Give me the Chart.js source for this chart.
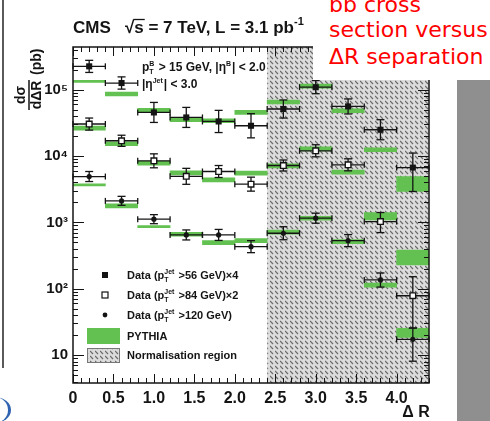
<!DOCTYPE html>
<html>
<head>
<meta charset="utf-8">
<script src="https://cdn.jsdelivr.net/npm/chart.js@4.4.0/dist/chart.umd.min.js"></script>
<style>
  html, body { margin: 0; padding: 0; background: #fff; }
  #wrap { position: relative; width: 490px; height: 421px; overflow: hidden; }
  #wrap canvas { position: absolute; left: 0; top: 0; }
  .note { position: absolute; left: 313px; top: 0; width: 177px; height: 80px; background: #fff; }
  .note span { position: absolute; left: 16px; font-family: "DejaVu Sans", sans-serif; font-size: 22px; line-height: 22px; color: #ff0000; white-space: nowrap; }
  .side { position: absolute; left: 457px; top: 80px; width: 33px; height: 341px; background: #8f8f8f; }
  .edge { position: absolute; left: 2px; top: 0; width: 2px; height: 368px; background: #5a5a5a; }
  .blob { position: absolute; left: -22px; top: 397px; width: 30px; height: 26px; border-right: 3px solid #2f62b0; border-radius: 50%; }
</style>
</head>
<body>
<div id="wrap">
  <canvas id="chartDeltaR" width="490" height="421"></canvas>
  <div class="edge"></div>
  <div class="blob"></div>
  <div class="side"></div>
  <div class="note">
    <span style="top:-6px">bb̄ cross</span>
    <span style="top:19px">section versus</span>
    <span style="top:46px">ΔR separation</span>
  </div>
</div>
<script>
// ============================================
// bb cross section versus Delta R (CMS, 7 TeV)
// ============================================

// Bins de Delta R (centros)
const binCenters = [0.2, 0.6, 1.0, 1.4, 1.8, 2.2, 2.6, 3.0, 3.4, 3.8, 4.2];
const binHalfWidth = 0.2;
const normStart = 2.4;

// Eje Y
const yTicks = [10, 100, 1000, 10000, 100000];
const yTickLabels = ['10', '10²', '10³', '10⁴', '10⁵'];

// Data (pT jet > 56 GeV) x4
const data56 = [2.25e5, 1.26e5, 4.54e4, 3.82e4, 3.32e4, 2.86e4, 5.12e4, 1.09e5, 5.6e4, 2.49e4, 6.7e3];
const data56Hi = [2.77e5, 1.56e5, 6.43e4, 5.41e4, 4.88e4, 4.35e4, 7.0e4, 1.37e5, 7.26e4, 3.53e4, 1.11e4];
const data56Lo = [1.82e5, 1.02e5, 3.21e4, 2.70e4, 2.26e4, 1.88e4, 3.74e4, 8.7e4, 4.31e4, 1.76e4, 2.92e3];
const pythia56Hi = [1.382e5, 9.23e4, 5.26e4, 3.78e4, 3.65e4, 4.87e4, 6.99e4, 1.211e5, 5.17e4, 1.332e4, 4.91e3];
const pythia56Lo = [1.289e5, 8.03e4, 4.58e4, 3.29e4, 3.18e4, 4.24e4, 6.09e4, 1.054e5, 4.5e4, 1.16e4, 2.92e3];

// Data (pT jet > 84 GeV) x2
const data84 = [3.04e4, 1.70e4, 8.48e3, 4.95e3, 5.85e3, 3.77e3, 7.2e3, 1.20e4, 7.38e3, 1.03e3, 78.5];
const data84Hi = [3.74e4, 2.06e4, 1.08e4, 6.53e3, 7.2e3, 4.81e3, 8.72e3, 1.48e4, 9.09e3, 1.41e3, 152];
const data84Lo = [2.46e4, 1.40e4, 6.65e3, 3.75e3, 4.75e3, 2.96e3, 5.95e3, 9.74e3, 5.99e3, 702, 25.6];
const pythia84Hi = [2.83e4, 1.64e4, 8.39e3, 5.99e3, 4.7e3, 5.93e3, 7.64e3, 1.38e4, 6.14e3, 1.41e3, 384];
const pythia84Lo = [2.46e4, 1.43e4, 7.3e3, 5.21e3, 4.09e3, 5.16e3, 6.65e3, 1.2e4, 5.34e3, 1.09e3, 228];

// Data (pT jet > 120 GeV)
const data120 = [4.91e3, 2.11e3, 1.12e3, 648, 648, 431, 687, 1157, 531, 136, 17.3];
const data120Hi = [5.85e3, 2.47e3, 1.31e3, 770, 784, 531, 861, 1377, 655, 173, 25.6];
const data120Lo = [4.13e3, 1.81e3, 956, 544, 535, 350, 548, 972, 431, 106, 8.1];
const pythia120Hi = [3.81e3, 1.90e3, 895, 711, 531, 569, 763, 1240, 550, 122, 25.3];
const pythia120Lo = [3.56e3, 1.66e3, 835, 619, 462, 496, 664, 1080, 479, 106, 18.4];

// Colores
const GREEN = '#62c150';
const INK = '#141414';
const FONT = '"Liberation Sans", Arial, Helvetica, sans-serif';

Chart.defaults.font.family = FONT;
Chart.defaults.color = INK;

const errorSeries = [
    { val: data56, hi: data56Hi, lo: data56Lo },
    { val: data84, hi: data84Hi, lo: data84Lo },
    { val: data120, hi: data120Hi, lo: data120Lo },
];

// patron rayado de la region de normalizacion
function makeHatch(ctx) {
    const tile = document.createElement('canvas');
    tile.width = 5; tile.height = 5;
    const t = tile.getContext('2d');
    t.fillStyle = '#dcdcdc';
    t.fillRect(0, 0, 5, 5);
    t.strokeStyle = '#6a6a6a';
    t.lineWidth = 1.2;
    t.beginPath();
    t.moveTo(0, 1); t.lineTo(3, 4);
    t.stroke();
    return ctx.createPattern(tile, 'repeat');
}

// texto con subindices / superindices
function drawRuns(ctx, x, y, parts, size) {
    ctx.textAlign = 'left';
    ctx.textBaseline = 'alphabetic';
    parts.forEach(p => {
        if (p.t !== undefined) {
            ctx.font = 'bold ' + size + 'px ' + FONT;
            ctx.fillText(p.t, x, y);
            x += ctx.measureText(p.t).width;
        } else {
            const s = Math.round(size * 0.62);
            ctx.font = 'bold ' + s + 'px ' + FONT;
            let w = 0;
            if (p.sup) { ctx.fillText(p.sup, x, y - size * 0.45); w = Math.max(w, ctx.measureText(p.sup).width); }
            if (p.sub) { ctx.fillText(p.sub, x, y + size * 0.25); w = Math.max(w, ctx.measureText(p.sub).width); }
            x += w + 1;
        }
    });
    return x;
}

function seg(ctx, x0, y0, x1, y1) {
    ctx.beginPath();
    ctx.moveTo(x0, y0);
    ctx.lineTo(x1, y1);
    ctx.stroke();
}

let errorsDrawn = false;

const cmsPlugin = {
    id: 'cmsPlot',
    beforeDatasetsDraw(chart) {
        const ctx = chart.ctx;
        const { top, bottom, right } = chart.chartArea;
        const xs = chart.scales.x;
        errorsDrawn = false;
        ctx.save();
        ctx.fillStyle = makeHatch(ctx);
        const x0 = xs.getPixelForValue(normStart);
        ctx.fillRect(x0, top, right - x0, bottom - top);
        ctx.restore();
    },
    beforeDatasetDraw(chart, args) {
        if (errorsDrawn || chart.data.datasets[args.index].type !== 'scatter') return;
        errorsDrawn = true;
        const ctx = chart.ctx;
        const xs = chart.scales.x, ys = chart.scales.y;
        ctx.save();
        ctx.strokeStyle = INK;
        ctx.lineWidth = 1.3;
        errorSeries.forEach(s => {
            binCenters.forEach((c, i) => {
                const px = xs.getPixelForValue(c);
                const pl = xs.getPixelForValue(c - binHalfWidth);
                const pr = xs.getPixelForValue(c + binHalfWidth);
                const py = ys.getPixelForValue(s.val[i]);
                const ph = ys.getPixelForValue(s.hi[i]);
                const plo = ys.getPixelForValue(s.lo[i]);
                seg(ctx, pl, py, pr, py);
                seg(ctx, pl, py - 3, pl, py + 3);
                seg(ctx, pr, py - 3, pr, py + 3);
                seg(ctx, px, ph, px, plo);
                seg(ctx, px - 4, ph, px + 4, ph);
                seg(ctx, px - 4, plo, px + 4, plo);
            });
        });
        ctx.restore();
    },
    afterDraw(chart) {
        const ctx = chart.ctx;
        const { left, right, top, bottom } = chart.chartArea;
        const xs = chart.scales.x, ys = chart.scales.y;
        ctx.save();
        ctx.strokeStyle = INK;
        ctx.fillStyle = INK;

        // marcas interiores
        ctx.lineWidth = 1;
        for (let i = 0; i <= 44; i++) {
            const px = Math.round(xs.getPixelForValue(i / 10)) + 0.5;
            const len = i % 5 === 0 ? 9 : 5;
            seg(ctx, px, bottom, px, bottom - len);
            seg(ctx, px, top, px, top + len);
        }
        for (let e = 0; e <= 5; e++) {
            for (let m = 1; m <= 9; m++) {
                const v = m * Math.pow(10, e);
                if (v < ys.min || v > ys.max) continue;
                const py = Math.round(ys.getPixelForValue(v)) + 0.5;
                const len = m === 1 ? 11 : 5;
                seg(ctx, left, py, left + len, py);
                seg(ctx, right, py, right - len, py);
            }
        }
        ctx.lineWidth = 1.5;
        ctx.strokeRect(left, top, right - left, bottom - top);

        // titulo
        let x = drawRuns(ctx, 73, 33, [{ t: 'CMS   ' }], 17);
        x = drawRuns(ctx, x, 33, [{ t: '√' }], 17);
        const sx = x;
        x = drawRuns(ctx, x, 33, [{ t: 's' }], 17);
        ctx.lineWidth = 1.3;
        seg(ctx, sx - 1, 19.5, x + 1, 19.5);
        drawRuns(ctx, x, 33, [{ t: ' = 7 TeV, L = 3.1 pb' }, { sup: '-1' }], 17);

        // cortes cinematicos
        drawRuns(ctx, 142, 71, [{ t: 'p' }, { sub: 'T', sup: 'B' }, { t: ' > 15 GeV, |η' }, { sup: 'B' }, { t: '| < 2.0' }], 12);
        drawRuns(ctx, 142, 88, [{ t: '|η' }, { sup: 'Jet' }, { t: '| < 3.0' }], 12);

        // titulo del eje Y (fraccion rotada)
        ctx.save();
        ctx.translate(29, 95);
        ctx.rotate(-Math.PI / 2);
        ctx.font = 'bold 14px ' + FONT;
        ctx.textBaseline = 'middle';
        ctx.textAlign = 'center';
        ctx.fillText('dσ', 0, -8);
        ctx.fillText('dΔR', 0, 8);
        ctx.lineWidth = 1.5;
        seg(ctx, -15, 0, 15, 0);
        ctx.textAlign = 'left';
        ctx.fillText('(pb)', 20, 8);
        ctx.restore();

        // titulo del eje X
        ctx.font = 'bold 16px ' + FONT;
        ctx.textAlign = 'center';
        ctx.textBaseline = 'middle';
        ctx.fillText('Δ R', 416, 413);

        // leyenda
        const lx = 105, tx = 127;
        ctx.fillRect(lx - 3, 272, 6, 6);
        ctx.lineWidth = 1.2;
        ctx.fillStyle = '#fff';
        ctx.fillRect(lx - 3, 292, 6, 6);
        ctx.strokeRect(lx - 3, 292, 6, 6);
        ctx.fillStyle = INK;
        ctx.beginPath();
        ctx.arc(lx, 315, 2.4, 0, Math.PI * 2);
        ctx.fill();
        ctx.fillStyle = GREEN;
        ctx.fillRect(87, 328, 33, 16);
        ctx.fillStyle = makeHatch(ctx);
        ctx.fillRect(87, 348, 33, 15);
        ctx.strokeStyle = '#777';
        ctx.lineWidth = 1;
        ctx.strokeRect(87.5, 348.5, 32, 14);
        ctx.fillStyle = INK;
        drawRuns(ctx, tx, 279, [{ t: 'Data (p' }, { sub: 'T', sup: 'Jet' }, { t: ' >56 GeV)×4' }], 11);
        drawRuns(ctx, tx, 299, [{ t: 'Data (p' }, { sub: 'T', sup: 'Jet' }, { t: ' >84 GeV)×2' }], 11);
        drawRuns(ctx, tx, 319, [{ t: 'Data (p' }, { sub: 'T', sup: 'Jet' }, { t: ' >120 GeV)' }], 11);
        drawRuns(ctx, tx, 340, [{ t: 'PYTHIA' }], 11);
        drawRuns(ctx, tx, 359, [{ t: 'Normalisation region' }], 11);
        ctx.restore();
    }
};

function pythiaSet(lo, hi) {
    return {
        type: 'bar',
        data: binCenters.map((c, i) => ({ x: c, y: [lo[i], hi[i]] })),
        backgroundColor: GREEN,
        borderWidth: 0,
        grouped: false,
        barPercentage: 1,
        categoryPercentage: 1,
        order: 3,
    };
}

function dataSet(vals, style) {
    return Object.assign({
        type: 'scatter',
        data: binCenters.map((c, i) => ({ x: c, y: vals[i] })),
        order: 1,
    }, style);
}

document.addEventListener('DOMContentLoaded', function () {
    const ctx = document.getElementById('chartDeltaR');
    new Chart(ctx, {
        type: 'scatter',
        data: {
            datasets: [
                pythiaSet(pythia56Lo, pythia56Hi),
                pythiaSet(pythia84Lo, pythia84Hi),
                pythiaSet(pythia120Lo, pythia120Hi),
                dataSet(data56, { pointStyle: 'rect', pointRadius: 4.3, backgroundColor: INK, borderColor: INK, borderWidth: 0 }),
                dataSet(data84, { pointStyle: 'rect', pointRadius: 4.0, backgroundColor: '#fff', borderColor: INK, borderWidth: 1.4 }),
                dataSet(data120, { pointStyle: 'circle', pointRadius: 2.6, backgroundColor: INK, borderColor: INK, borderWidth: 0 }),
            ]
        },
        options: {
            responsive: false,
            animation: false,
            events: [],
            layout: { padding: { left: 0, top: 47, right: 61, bottom: 0 } },
            plugins: {
                legend: { display: false },
                tooltip: { enabled: false },
            },
            scales: {
                x: {
                    type: 'linear',
                    min: 0,
                    max: 4.4,
                    offset: false,
                    grid: { display: false, drawTicks: false },
                    border: { display: false },
                    ticks: {
                        stepSize: 0.5,
                        includeBounds: false,
                        padding: 6,
                        maxRotation: 0,
                        color: INK,
                        font: { size: 16, weight: 'bold' },
                    },
                    afterFit: s => { s.height = 38; },
                },
                y: {
                    type: 'logarithmic',
                    min: 3.8,
                    max: 4.4e5,
                    grid: { display: false, drawTicks: false },
                    border: { display: false },
                    ticks: {
                        autoSkip: false,
                        padding: 5,
                        color: INK,
                        font: { size: 15, weight: 'bold' },
                        callback: function (value) {
                            const k = yTicks.findIndex(t => Math.abs(t - value) / t < 1e-6);
                            return k >= 0 ? yTickLabels[k] : '';
                        }
                    },
                    afterFit: s => { s.width = 73; },
                }
            }
        },
        plugins: [cmsPlugin]
    });
});
</script>
</body>
</html>
